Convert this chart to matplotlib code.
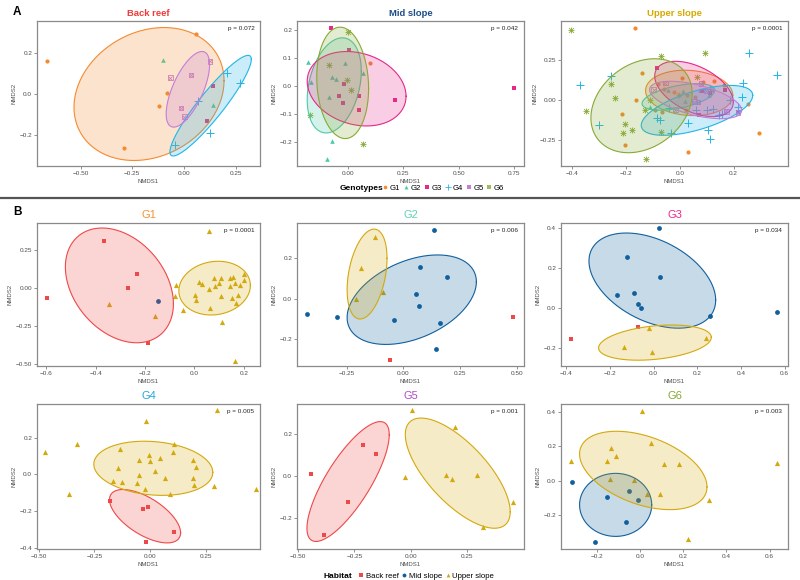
import numpy as np
import matplotlib.pyplot as plt
from matplotlib.lines import Line2D
from matplotlib.ticker import FuncFormatter

plt.rcParams['font.family'] = ['Liberation Sans', 'DejaVu Sans']

# ---------------- data ----------------
genotypes = ["G1", "G2", "G3", "G4", "G5", "G6"]
habitats = ["Back reef", "Mid slope", "Upper slope"]

# panel A: NMDS scores per habitat, by genotype  {genotype: (x, y)}
back_reef_pts = {
    "G1": ([-0.665, 0.058, -0.082, -0.119, -0.290], [0.161, 0.293, 0.003, -0.061, -0.266]),
    "G2": ([-0.100, 0.142], [0.164, -0.052]),
    "G3": ([0.142, 0.111], [0.041, -0.130]),
    "G4": ([0.208, 0.269, 0.068, 0.124, -0.044], [0.103, 0.054, -0.033, -0.192, -0.249]),
    "G5": ([0.126, -0.066, 0.035, -0.015, 0.002], [0.159, 0.080, 0.092, -0.069, -0.111]),
}
mid_slope_pts = {
    "G1": ([0.099], [0.082]),
    "G2": ([-0.179, -0.165, -0.014, -0.072, -0.053, -0.087, 0.069, -0.074, -0.093],
           [0.083, 0.013, 0.082, 0.030, 0.025, -0.040, 0.045, -0.198, -0.262]),
    "G3": ([-0.075, 0.003, -0.020, -0.042, -0.024, 0.050, 0.050, 0.211, 0.747],
           [0.205, 0.127, 0.006, -0.036, -0.061, -0.037, -0.086, -0.052, -0.010]),
    "G6": ([0.0, -0.084, -0.005, 0.014, -0.173, 0.069], [0.192, 0.075, 0.021, -0.015, -0.104, -0.208]),
}
upper_slope_pts = {
    "G1": ([-0.167, -0.142, -0.161, -0.214, -0.204, 0.032, 0.295, 0.254, 0.126, -0.080, -0.058,
            -0.022, 0.009, 0.028, 0.056, -0.093, -0.067, 0.025, 0.087, 0.119, 0.165],
           [0.450, 0.167, -0.004, -0.092, -0.283, -0.327, -0.206, -0.025, 0.115, 0.100, 0.069,
            0.048, 0.135, 0.027, 0.017, -0.063, -0.079, -0.067, 0.110, 0.058, 0.090]),
    "G2": ([-0.111, -0.045, 0.012, 0.074, 0.020, 0.110], [-0.046, 0.063, 0.054, 0.063, -0.010, 0.030]),
    "G3": ([-0.083, 0.073, 0.167, 0.084, 0.111, 0.217], [0.196, -0.098, 0.063, 0.054, 0.042, -0.077]),
    "G4": ([0.256, 0.361, 0.236, 0.232, -0.371, -0.300, -0.254, -0.084, -0.074, -0.040, -0.033,
            0.031, 0.062, 0.103, 0.124, 0.111, 0.104, 0.146, 0.158, 0.186, 0.217, 0.111],
           [0.294, 0.152, 0.106, 0.019, 0.090, -0.160, 0.146, -0.115, -0.125, -0.050, -0.208,
            -0.146, -0.067, -0.063, -0.056, -0.244, -0.192, -0.098, -0.088, -0.004, -0.046, 0.069]),
    "G5": ([-0.097, -0.054, -0.016, 0.054, 0.068, 0.079, 0.173, 0.217, 0.098],
           [0.063, 0.104, -0.063, -0.013, -0.015, 0.100, -0.073, -0.081, 0.054]),
    "G6": ([-0.403, -0.069, 0.095, -0.256, -0.239, -0.347, -0.202, -0.178, -0.209, -0.127, -0.068,
            -0.129, 0.064, -0.004, -0.111],
           [0.438, 0.275, 0.294, 0.100, 0.010, -0.073, -0.150, -0.192, -0.208, -0.373, -0.204,
            -0.063, 0.142, 0.027, 0.0]),
}
# ellipses: centre x, centre y, half-width, half-height, tilt (correlation)
back_reef_ell = {"G1": (-0.169, 0.0, 0.363, 0.325, 0.2),
                 "G4": (0.129, -0.057, 0.197, 0.246, 0.92),
                 "G5": (0.019, 0.023, 0.105, 0.185, 0.65)}
mid_slope_ell = {"G2": (-0.062, 0.001, 0.122, 0.170, 0.3),
                 "G3": (0.039, -0.011, 0.223, 0.133, -0.2),
                 "G6": (-0.024, 0.010, 0.117, 0.199, -0.1)}
upper_slope_ell = {"G1": (0.035, 0.042, 0.162, 0.142, -0.1),
                   "G2": (-0.005, 0.017, 0.135, 0.083, 0.5),
                   "G3": (0.053, 0.067, 0.146, 0.173, -0.47),
                   "G4": (0.064, -0.067, 0.207, 0.156, 0.6),
                   "G5": (0.059, -0.002, 0.171, 0.117, -0.55),
                   "G6": (-0.142, -0.038, 0.188, 0.294, 0.26)}

# panel B: NMDS scores per genotype, by habitat
g1_pts = {
    "Back reef": ([-0.596, -0.233, -0.268, -0.190, -0.367], [-0.064, 0.095, 0.0, -0.358, 0.312]),
    "Mid slope": ([-0.148], [-0.086]),
    "Upper slope": ([-0.347, -0.160, -0.074, -0.079, -0.048, 0.019, 0.030, 0.004, 0.007, 0.058, 0.081,
                     0.082, 0.101, 0.108, 0.108, 0.062, 0.110, 0.143, 0.155, 0.164, 0.143, 0.183, 0.200,
                     0.202, 0.176, 0.153, 0.169, 0.163, 0.059],
                    [-0.100, -0.179, 0.022, -0.049, -0.142, 0.040, 0.027, -0.040, -0.075, -0.007, 0.071,
                     0.015, 0.038, 0.071, -0.051, -0.126, -0.223, 0.071, 0.075, 0.033, 0.013, 0.022, 0.093,
                     0.055, -0.040, -0.064, -0.095, -0.476, 0.378]),
}
g2_pts = {
    "Back reef": ([-0.057, 0.484], [-0.302, -0.090]),
    "Mid slope": ([-0.425, -0.291, -0.041, 0.054, 0.068, 0.075, 0.191, 0.163, 0.143, 0.134],
                  [-0.074, -0.092, -0.103, 0.025, -0.034, 0.154, 0.108, -0.118, -0.249, 0.338]),
    "Upper slope": ([-0.187, -0.090, -0.210, -0.126], [0.152, 0.033, 0.0, 0.303]),
}
g3_pts = {
    "Back reef": ([-0.379, -0.070], [-0.155, -0.097]),
    "Mid slope": ([-0.121, 0.031, -0.169, -0.092, -0.072, -0.060, 0.256, 0.566, 0.023],
                  [0.257, 0.155, 0.067, 0.077, 0.022, 0.0, -0.038, -0.020, 0.400]),
    "Upper slope": ([-0.021, -0.136, -0.009, 0.240], [-0.100, -0.193, -0.222, -0.150]),
}
g4_pts = {
    "Back reef": ([-0.182, -0.031, -0.012, 0.107, -0.018], [-0.145, -0.189, -0.176, -0.311, -0.369]),
    "Upper slope": ([-0.471, -0.329, -0.366, -0.137, -0.019, -0.053, -0.006, -0.004, 0.044, 0.021, -0.146,
                     -0.053, -0.169, -0.128, -0.062, -0.022, 0.065, 0.088, 0.106, 0.103, 0.191, 0.206,
                     0.190, 0.194, 0.285, 0.471, 0.297],
                    [0.120, 0.164, -0.107, 0.136, 0.289, 0.080, 0.105, 0.071, 0.091, 0.018, 0.035,
                     -0.002, -0.035, -0.042, -0.047, -0.082, -0.022, -0.105, 0.164, 0.122, 0.076, 0.038,
                     -0.020, -0.055, -0.065, -0.082, 0.349]),
}
g5_pts = {
    "Back reef": ([-0.444, -0.213, -0.154, -0.278, -0.384], [0.010, 0.148, 0.103, -0.127, -0.284]),
    "Upper slope": ([-0.028, 0.154, 0.181, 0.293, 0.451, 0.319, 0.197, 0.006],
                    [-0.005, 0.006, -0.016, 0.002, -0.127, -0.246, 0.233, 0.314]),
}
g6_pts = {
    "Mid slope": ([-0.315, -0.151, -0.052, -0.008, -0.065, -0.210], [-0.010, -0.096, -0.061, -0.117, -0.244, -0.361]),
    "Upper slope": ([-0.319, -0.133, -0.110, -0.154, -0.137, -0.029, 0.052, 0.111, 0.181, 0.032, 0.091,
                     0.319, 0.221, 0.634, 0.008],
                    [0.113, 0.193, 0.146, 0.115, 0.008, 0.004, 0.219, 0.094, 0.094, -0.078, -0.078,
                     -0.113, -0.342, 0.105, 0.408]),
}
g1_ell = {"Back reef": (-0.304, 0.020, 0.219, 0.378, -0.32), "Upper slope": (0.082, 0.002, 0.145, 0.177, 0.1)}
g2_ell = {"Mid slope": (0.037, -0.005, 0.285, 0.220, 0.4), "Upper slope": (-0.160, 0.121, 0.088, 0.221, 0.35)}
g3_ell = {"Mid slope": (-0.006, 0.137, 0.290, 0.238, -0.41), "Upper slope": (0.006, -0.173, 0.258, 0.088, 0.3)}
g4_ell = {"Back reef": (-0.024, -0.227, 0.159, 0.145, -0.62), "Upper slope": (0.013, 0.033, 0.266, 0.147, -0.15)}
g5_ell = {"Back reef": (-0.278, -0.027, 0.182, 0.286, 0.78), "Upper slope": (0.207, 0.013, 0.232, 0.263, -0.7)}
g6_ell = {"Mid slope": (-0.113, -0.143, 0.167, 0.185, 0.0), "Upper slope": (0.015, 0.059, 0.295, 0.230, -0.42)}

p_values_A = ["0.072", "0.042", "0.0001"]
p_values_B = ["0.0001", "0.006", "0.034", "0.005", "0.001", "0.003"]

# ---------------- styles ----------------
geno_col = {"G1": "#F58A2F", "G2": "#4CC9A8", "G3": "#E6288A",
            "G4": "#22B5E8", "G5": "#C47ED6", "G6": "#88AA35"}
geno_title_col = {"G1": "#F7902F", "G2": "#5ED3B3", "G3": "#E8298A",
                  "G4": "#22A7DD", "G5": "#B04CC8", "G6": "#86A832"}
hab_col = {"Back reef": "#EF4848", "Mid slope": "#11609E", "Upper slope": "#D4A90E"}
hab_title_col = {"Back reef": "#EE3B3B", "Mid slope": "#1D4E89", "Upper slope": "#D6A900"}
hab_marker = {"Back reef": "s", "Mid slope": "o", "Upper slope": "^"}

W, H = 800, 580
fig = plt.figure(figsize=(8, 5.8), dpi=100)


def rect(l, t, w, h):
    return [l / W, 1 - (t + h) / H, w / W, h / H]


def minus_fmt(fmt):
    return FuncFormatter(lambda v, p: (fmt % v).replace("-", "\u2212"))


def setup(ax, xlim, ylim, xt, yt, xf, yf, pval):
    ax.set_xlim(xlim)
    ax.set_ylim(ylim)
    ax.set_xticks(xt)
    ax.set_yticks(yt)
    ax.xaxis.set_major_formatter(minus_fmt(xf))
    ax.yaxis.set_major_formatter(minus_fmt(yf))
    for s in ax.spines.values():
        s.set_color("#8a8a8a")
        s.set_linewidth(0.9)
    ax.tick_params(length=2, width=0.5, color="#666666", labelsize=4.6,
                   labelcolor="#4d4d4d", pad=1.5)
    ax.set_xlabel("NMDS1", fontsize=4.3, color="#4d4d4d", labelpad=2)
    ax.set_ylabel("NMDS2", fontsize=4.3, color="#4d4d4d", labelpad=2)
    ax.text(0.975, 0.945, "p = " + pval, transform=ax.transAxes, ha="right", va="center",
            fontsize=4.6, color="#222222")


def ellipse(ax, e, color):
    cx, cy, rx, ry, r = e
    t = np.linspace(0, 2 * np.pi, 240)
    x = cx + rx * np.cos(t)
    y = cy + ry * (r * np.cos(t) + np.sqrt(1 - r * r) * np.sin(t))
    ax.fill(x, y, facecolor=color, alpha=0.23, edgecolor="none", zorder=3)
    ax.plot(x, y, color=color, lw=0.8, zorder=3)


def geno_points(ax, g, x, y):
    c = geno_col[g]
    if g == "G1":
        ax.scatter(x, y, marker="o", s=9, color=c, lw=0, zorder=2)
    elif g == "G2":
        ax.scatter(x, y, marker="^", s=11, color=c, lw=0, zorder=2)
    elif g == "G3":
        ax.scatter(x, y, marker="s", s=9, color=c, lw=0, zorder=2)
    elif g == "G4":
        ax.scatter(x, y, marker="+", s=26, color=c, lw=0.7, zorder=2)
    elif g == "G5":
        ax.scatter(x, y, marker="s", s=11, facecolors="none", edgecolors=c, lw=0.6, zorder=2)
        ax.scatter(x, y, marker="x", s=8, color=c, lw=0.6, zorder=2)
    else:
        ax.scatter(x, y, marker="+", s=20, color=c, lw=0.6, zorder=2)
        ax.scatter(x, y, marker="x", s=12, color=c, lw=0.6, zorder=2)


lefts = [37, 297, 561]
widths = [223, 227, 227]

# ---------------- panel A ----------------
panelA = [
    ("Back reef", back_reef_pts, back_reef_ell, (-0.711, 0.368), (-0.352, 0.357),
     [-0.5, -0.25, 0, 0.25], [-0.2, 0, 0.2], "%.2f", "%.1f"),
    ("Mid slope", mid_slope_pts, mid_slope_ell, (-0.230, 0.794), (-0.287, 0.231),
     [0, 0.25, 0.5, 0.75], [-0.2, -0.1, 0, 0.1, 0.2], "%.2f", "%.1f"),
    ("Upper slope", upper_slope_pts, upper_slope_ell, (-0.441, 0.402), (-0.415, 0.492),
     [-0.4, -0.2, 0, 0.2], [-0.25, 0, 0.25], "%.1f", "%.2f"),
]
for i, (name, pts, ells, xl, yl, xt, yt, xf, yf) in enumerate(panelA):
    ax = fig.add_axes(rect(lefts[i], 21, widths[i], 145))
    setup(ax, xl, yl, xt, yt, xf, yf, p_values_A[i])
    for g in genotypes:
        if g in pts:
            geno_points(ax, g, *pts[g])
    for g in genotypes:
        if g in ells:
            ellipse(ax, ells[g], geno_col[g])
    ax.set_title(name, fontsize=6.8, fontweight="bold", color=hab_title_col[name], pad=3.5)

# ---------------- panel B ----------------
panelB = [
    ("G1", g1_pts, g1_ell, (-0.638, 0.266), (-0.511, 0.431),
     [-0.6, -0.4, -0.2, 0, 0.2], [-0.5, -0.25, 0, 0.25], "%.1f", "%.2f"),
    ("G2", g2_pts, g2_ell, (-0.469, 0.532), (-0.331, 0.372),
     [-0.25, 0, 0.25, 0.5], [-0.2, 0, 0.2], "%.2f", "%.1f"),
    ("G3", g3_pts, g3_ell, (-0.424, 0.615), (-0.290, 0.425),
     [-0.4, -0.2, 0, 0.2, 0.4, 0.6], [-0.2, 0, 0.2, 0.4], "%.1f", "%.1f"),
    ("G4", g4_pts, g4_ell, (-0.507, 0.49), (-0.405, 0.382),
     [-0.5, -0.25, 0, 0.25], [-0.4, -0.2, 0, 0.2], "%.2f", "%.1f"),
    ("G5", g5_pts, g5_ell, (-0.504, 0.50), (-0.349, 0.343),
     [-0.5, -0.25, 0, 0.25], [-0.2, 0, 0.2], "%.2f", "%.1f"),
    ("G6", g6_pts, g6_ell, (-0.366, 0.685), (-0.402, 0.449),
     [-0.2, 0, 0.2, 0.4, 0.6], [-0.2, 0, 0.2, 0.4], "%.1f", "%.1f"),
]
for i, (name, pts, ells, xl, yl, xt, yt, xf, yf) in enumerate(panelB):
    top = 223 if i < 3 else 404
    hgt = 143 if i < 3 else 145
    ax = fig.add_axes(rect(lefts[i % 3], top, widths[i % 3], hgt))
    setup(ax, xl, yl, xt, yt, xf, yf, p_values_B[i])
    for h in habitats:
        if h in pts:
            sz = 14 if h == "Upper slope" else 12
            ax.scatter(*pts[h], marker=hab_marker[h], s=sz, color=hab_col[h], lw=0, zorder=2)
    for h in habitats:
        if h in ells:
            ellipse(ax, ells[h], hab_col[h])
    ax.set_title(name, fontsize=8, color=geno_title_col[name], pad=3.5)

# ---------------- letters, separator, legends ----------------
fig.text(17 / W, 1 - 12 / H, "A", fontsize=8.5, fontweight="bold", ha="center", va="center")
fig.text(17 / W, 1 - 212 / H, "B", fontsize=8.5, fontweight="bold", ha="center", va="center")
fig.add_artist(Line2D([0, 1], [1 - 198 / H, 1 - 198 / H], transform=fig.transFigure,
                      color="#555555", lw=1.6))

fig.text(340 / W, 1 - 188 / H, "Genotypes", fontsize=6, fontweight="bold", va="center", ha="left")
geno_handles = [
    Line2D([], [], ls="none", marker="o", ms=2.6, mew=0, color=geno_col["G1"]),
    Line2D([], [], ls="none", marker="^", ms=2.8, mew=0, color=geno_col["G2"]),
    Line2D([], [], ls="none", marker="s", ms=2.5, mew=0, color=geno_col["G3"]),
    Line2D([], [], ls="none", marker="+", ms=4, mew=0.6, color=geno_col["G4"]),
    Line2D([], [], ls="none", marker="s", ms=2.6, mew=0, color=geno_col["G5"]),
    Line2D([], [], ls="none", marker="s", ms=2.6, mew=0, color=geno_col["G6"], alpha=0.8),
]
fig.legend(geno_handles, genotypes, loc="center left", bbox_to_anchor=(383 / W, 1 - 188 / H),
           ncol=6, frameon=False, fontsize=5.6, handlelength=0.6, handletextpad=0.3,
           columnspacing=0.45, borderpad=0, borderaxespad=0)

fig.text(324 / W, 1 - 576 / H, "Habitat", fontsize=6, fontweight="bold", va="center", ha="left")
hab_handles = [Line2D([], [], ls="none", marker=hab_marker[h], ms=2.8, mew=0, color=hab_col[h])
               for h in habitats]
fig.legend(hab_handles, habitats, loc="center left", bbox_to_anchor=(359 / W, 1 - 576 / H),
           ncol=3, frameon=False, fontsize=5.6, handlelength=0.6, handletextpad=0.3,
           columnspacing=0.4, borderpad=0, borderaxespad=0)

fig.savefig("out.png", dpi=100)
